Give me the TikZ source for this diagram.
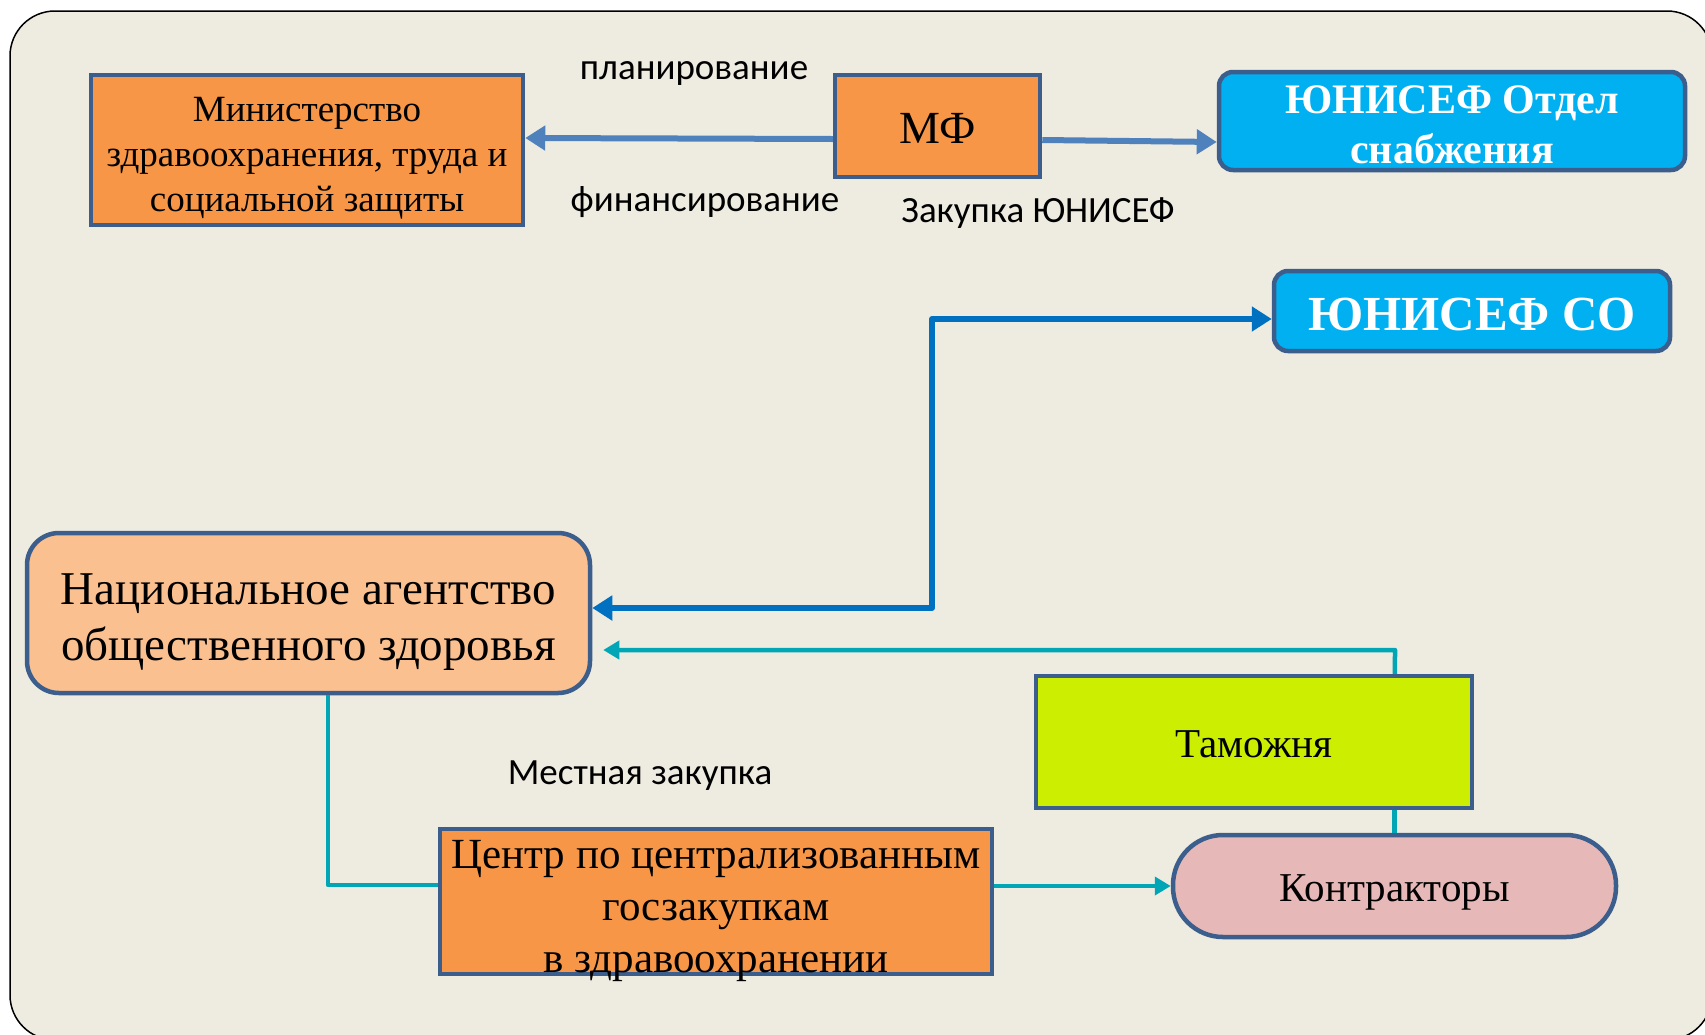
\documentclass[tikz,border=0pt]{standalone}
\usepackage{fontspec}
\setmainfont{Liberation Serif}
\newfontfamily\lblfont{Carlito}
\usetikzlibrary{arrows.meta,calc}
\definecolor{bgc}{RGB}{238,235,224}
\definecolor{bordc}{RGB}{59,94,140}
\definecolor{orng}{RGB}{247,150,70}
\definecolor{lorng}{RGB}{250,192,144}
\definecolor{cyanb}{RGB}{0,176,240}
\definecolor{lime}{RGB}{204,238,0}
\definecolor{pinkc}{RGB}{230,184,183}
\definecolor{arrblue}{RGB}{79,129,189}
\definecolor{darkblue}{RGB}{0,112,192}
\definecolor{teal}{RGB}{0,166,182}
\pgfdeclarelayer{back}
\pgfdeclarelayer{edges}
\pgfsetlayers{back,edges,main}
\newcommand{\tstrut}[1]{\rule{0pt}{#1}}
\tikzset{
  box/.style={draw=bordc, line width=4.5pt, inner sep=0pt, align=center, text=black},
  lbl/.style={inner sep=0pt, anchor=base, font=\lblfont\fontsize{37}{44}\selectfont},
  tip/.style={-{Triangle[length=20pt,width=24pt]}},
  tipboth/.style={{Triangle[length=20pt,width=24pt]}-{Triangle[length=20pt,width=24pt]}},
  ttip/.style={-{Triangle[length=16pt,width=18pt]}},
  conn/.style={line width=6pt},
  tconn/.style={line width=4.5pt, draw=teal},
}
\begin{document}
\begin{tikzpicture}[x=1pt,y=-1pt]
\useasboundingbox (0,0) rectangle (1705,1034);
\begin{pgfonlayer}{back}
\draw[fill=bgc, draw=black, line width=1.5pt, rounded corners=45pt] (10,11) rectangle (1712,1040);
\end{pgfonlayer}

\node[box, fill=orng, minimum width=432pt, minimum height=150pt, font=\fontsize{37}{45}\selectfont] (min) at (307,150) {\tstrut{40pt}Министерство\\здравоохранения, труда и\\социальной защиты};
\node[box, fill=orng, minimum width=205pt, minimum height=102pt, font=\fontsize{46}{52}\selectfont] (mf) at (937.5,126) {\tstrut{35pt}МФ};
\node[box, fill=cyanb, rounded corners=14pt, minimum width=466pt, minimum height=98pt, text=white, font=\bfseries\fontsize{42}{50}\selectfont] (sup) at (1452,121) {\tstrut{35pt}ЮНИСЕФ Отдел\\снабжения};
\node[box, fill=cyanb, rounded corners=14pt, minimum width=396pt, minimum height=80pt, text=white, font=\bfseries\fontsize{49}{56}\selectfont] (co) at (1472,311) {\tstrut{40pt}ЮНИСЕФ СО};
\node[box, fill=lorng, rounded corners=32pt, minimum width=563pt, minimum height=160pt, font=\fontsize{47}{56}\selectfont] (ag) at (308.5,613) {\tstrut{49pt}Национальное агентство\\общественного здоровья};
\node[box, fill=orng, minimum width=552pt, minimum height=145pt, font=\fontsize{43}{52}\selectfont] (cen) at (716,901.5) {\raisebox{-15pt}[0pt][0pt]{\begin{tabular}{@{}c@{}}Центр по централизованным\\госзакупкам\\в здравоохранении\end{tabular}}};
\node[box, fill=pinkc, rounded corners=50pt, minimum width=443pt, minimum height=102pt, font=\fontsize{41}{48}\selectfont] (con) at (1394.5,886) {\tstrut{40pt}Контракторы};

\begin{pgfonlayer}{edges}
\draw[tconn, ttip, line join=round] (con.north) -- (1395,650) -- ($(ag.east)+(11,37)$);
\end{pgfonlayer}
\node[box, fill=lime, minimum width=436pt, minimum height=132pt, font=\fontsize{41}{48}\selectfont] (tam) at (1254,742) {\tstrut{31.5pt}Таможня};
\draw[tconn] (con.north) -- (tam.south -| con.north);

\draw[conn, draw=arrblue, tip] ($(mf.west)+(0,13)$) -- ($(min.east)+(0,-12)$);
\draw[conn, draw=arrblue, tip] ($(mf.east)+(0,14)$) -- ($(sup.west)+(0,21)$);
\draw[conn, draw=darkblue, tipboth, line join=round] ($(ag.east)+(0,-5)$) -- (932,608) -- (932,319) -- ($(co.west)+(0,8)$);
\draw[tconn, line join=round] (ag.south -| 328,0) -- (328,885) -- (cen.west |- 0,885);
\draw[tconn, ttip] (cen.east |- 0,886) -- (con.west);

\node[lbl] (l1) at (694,79) {планирование};
\node[lbl] (l2) at (705,211) {финансирование};
\node[lbl] (l3) at (1038,222) {Закупка ЮНИСЕФ};
\node[lbl] (l4) at (640,784) {Местная закупка};
\end{tikzpicture}
\end{document}
